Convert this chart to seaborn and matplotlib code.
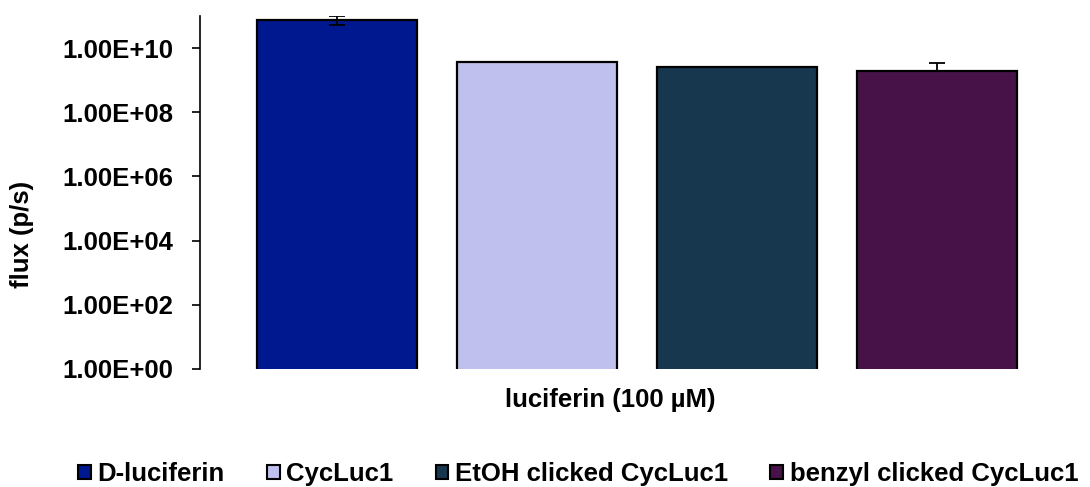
import matplotlib
matplotlib.use("Agg")
import matplotlib.pyplot as plt
import seaborn as sns
import pandas as pd
import numpy as np
from matplotlib.patches import Patch
from matplotlib.ticker import FixedLocator, FixedFormatter, NullLocator

categories = ["D-luciferin", "CycLuc1", "EtOH clicked CycLuc1", "benzyl clicked CycLuc1"]
flux = [7.7e10, 3.6e9, 2.5e9, 1.95e9]
errors = [2.5e10, 0.0, 0.0, 1.6e9]
colors = ["#00188F", "#C0C0EE", "#17374F", "#461248"]
ytick_values = [1e0, 1e2, 1e4, 1e6, 1e8, 1e10]
ytick_labels = ["1.00E+00", "1.00E+02", "1.00E+04", "1.00E+06", "1.00E+08", "1.00E+10"]

sns.set_style("white")
plt.rcParams['font.family'] = ['Liberation Sans', 'DejaVu Sans']
plt.rcParams['text.color'] = 'black'
plt.rcParams['axes.labelcolor'] = 'black'
plt.rcParams['ytick.color'] = 'black'

FS = 18.5
df = pd.DataFrame({"luciferin": categories, "flux": flux})

fig = plt.figure(figsize=(10.9, 4.87), dpi=100)
ax = fig.add_axes([200/1090, 1-369/487, (1074-200)/1090, (369-16)/487])

sns.barplot(data=df, x="luciferin", y="flux", hue="luciferin", palette=colors,
            order=categories, hue_order=categories, legend=False, ax=ax,
            width=0.8, edgecolor="black", linewidth=1.6, errorbar=None, saturation=1)
ax.set_yscale("log")
ax.errorbar(np.arange(len(categories)), flux, yerr=[[0, 0, 0, 0], errors],
            fmt="none", ecolor="black", elinewidth=1.3, capsize=6, capthick=1.3)
ax.errorbar([0], [flux[0]], yerr=[[errors[0]], [0]],
            fmt="none", ecolor="black", elinewidth=1.3, capsize=6, capthick=1.3)

ax.set_ylim(1, 1e11)
ax.set_xlim(-0.685, 3.685)
ax.yaxis.set_major_locator(FixedLocator(ytick_values))
ax.yaxis.set_major_formatter(FixedFormatter(ytick_labels))
ax.yaxis.set_minor_locator(NullLocator())
ax.set_xticks([])
for s in ["top", "right", "bottom"]:
    ax.spines[s].set_visible(False)
ax.spines["left"].set_color("black")
ax.spines["left"].set_linewidth(1.2)
ax.tick_params(axis="y", which="major", direction="out", length=6, width=1.2,
               color="black", left=True, labelsize=FS, pad=13, labelcolor="black")
for lbl in ax.get_yticklabels():
    lbl.set_fontweight("bold")

ax.set_ylabel("flux (p/s)", fontsize=FS, fontweight="bold")
ax.yaxis.set_label_coords(-(200-22)/(1074-200), (369-234)/(369-16))
ax.yaxis.label.set_verticalalignment("center")
ax.set_xlabel("luciferin (100 µM)", fontsize=FS, fontweight="bold")
ax.xaxis.set_label_coords((610-200)/(1074-200), -(400-369)/(369-16))
ax.xaxis.label.set_verticalalignment("center")

handles = [Patch(facecolor=c, edgecolor="black", linewidth=1.5) for c in colors]
fig.legend(handles, categories, loc="center", bbox_to_anchor=(578/1090, 1-474/487),
           ncol=4, frameon=False, handlelength=0.5, handleheight=0.5, handletextpad=0.25,
           columnspacing=1.65, borderpad=0.2, prop={"size": FS, "weight": "bold"})

fig.savefig("out.png", dpi=100)
